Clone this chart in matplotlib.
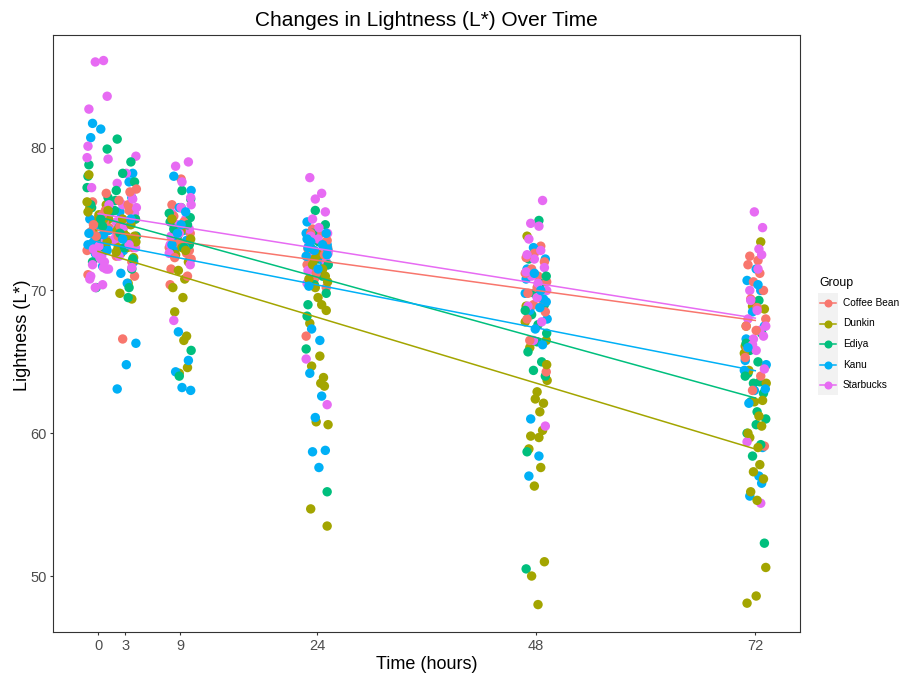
import numpy as np
import matplotlib
matplotlib.use("Agg")
import matplotlib.pyplot as plt
from matplotlib.lines import Line2D
from matplotlib.patches import Rectangle

plt.rcParams['font.family'] = ['Liberation Sans', 'DejaVu Sans']

# ---------------- data ----------------
TIMES = [0, 3, 9, 24, 48, 72]
GROUPS = ["Coffee Bean", "Dunkin", "Ediya", "Kanu", "Starbucks"]
COLORS = ["#F8766D", "#A3A500", "#00BF7D", "#00B0F6", "#E76BF3"]

coffee_bean = [
    [71.1, 72.8, 73.5, 74.0, 74.4, 75.0, 75.6, 73.2, 74.8, 76.2, 72.5, 74.1, 75.3, 73.8, 76.8, 74.6],
    [66.6, 71.0, 72.4, 73.5, 74.2, 75.0, 76.3, 77.1, 74.8, 73.0, 75.6, 72.0, 74.5, 76.0, 73.8, 76.9],
    [77.8, 76.0, 74.5, 73.6, 72.8, 71.5, 70.4, 73.0, 74.0, 75.2, 72.2, 73.3, 71.0, 74.8, 72.6, 72.3],
    [74.3, 73.9, 73.0, 72.6, 72.0, 71.5, 70.8, 70.2, 72.9, 71.8, 66.8, 73.5, 74.0, 72.8, 71.2, 72.5],
    [73.1, 72.6, 72.0, 71.5, 71.0, 70.6, 70.2, 69.8, 69.4, 69.0, 68.5, 68.0, 72.3, 71.2, 64.3, 66.5],
    [72.4, 72.1, 71.8, 71.2, 70.6, 70.0, 69.4, 68.8, 68.0, 67.2, 66.0, 64.0, 63.0, 59.1, 67.5, 65.3],
]
dunkin = [
    [72.9, 75.2, 73.8, 76.0, 74.3, 74.6, 75.0, 75.3, 75.8, 75.0, 74.8, 73.4, 78.1, 75.5, 76.2, 75.6],
    [69.4, 69.8, 70.5, 73.0, 73.5, 74.0, 72.3, 72.6, 73.0, 73.4, 73.8, 74.2, 74.6, 75.0, 73.8, 72.7],
    [64.2, 64.6, 66.5, 66.8, 68.5, 69.5, 70.2, 70.8, 71.4, 72.0, 72.5, 73.0, 73.6, 74.2, 75.0, 72.8],
    [53.5, 54.7, 60.6, 60.8, 63.3, 63.5, 63.9, 64.7, 65.4, 67.7, 69.0, 70.2, 71.0, 71.8, 72.5, 70.6,
     69.5, 70.8, 71.5, 72.2, 68.6],
    [73.8, 68.9, 67.8, 66.5, 66.0, 63.7, 62.4, 62.1, 61.5, 60.2, 59.8, 59.7, 58.9, 57.6, 56.3, 51.0,
     50.0, 48.0, 64.8, 62.9],
    [73.4, 68.9, 68.7, 67.5, 66.1, 65.6, 64.7, 64.4, 63.5, 62.2, 62.3, 61.2, 60.5, 59.7, 59.0, 60.0,
     57.8, 57.3, 56.8, 55.9, 55.3, 50.6, 48.6, 48.1],
]
ediya = [
    [79.9, 78.8, 78.0, 77.2, 76.5, 75.8, 75.3, 74.8, 74.2, 73.6, 73.0, 72.0, 75.0, 76.0, 74.5, 70.2],
    [80.6, 79.0, 78.2, 77.6, 77.0, 76.3, 75.6, 75.0, 74.4, 73.8, 73.0, 72.2, 70.2, 71.5, 74.0, 69.5],
    [77.0, 76.4, 75.8, 75.0, 74.4, 73.8, 73.2, 72.6, 74.8, 75.4, 75.1, 74.3, 65.8, 64.0, 74.6, 73.0],
    [75.6, 74.6, 74.0, 73.4, 72.8, 72.2, 71.6, 71.0, 70.4, 69.8, 69.0, 68.2, 65.9, 55.9, 73.0, 71.8],
    [74.9, 72.2, 70.5, 69.8, 69.0, 68.3, 67.6, 67.0, 66.4, 65.7, 65.0, 64.4, 64.0, 58.7, 50.5, 68.6,
     71.0],
    [69.3, 67.0, 65.8, 65.0, 64.2, 63.6, 63.5, 62.8, 62.2, 61.5, 61.0, 60.6, 60.0, 59.2, 58.4, 52.3,
     66.3, 64.0],
]
kanu = [
    [81.7, 81.3, 80.7, 71.7, 72.5, 73.0, 73.4, 73.8, 74.2, 74.6, 75.0, 73.9, 72.6, 72.8, 74.0, 73.2],
    [78.2, 77.6, 76.5, 75.5, 74.8, 74.0, 73.4, 72.8, 72.0, 71.2, 70.5, 66.3, 64.8, 63.1, 75.0, 73.6],
    [78.0, 77.0, 75.8, 75.0, 74.2, 73.5, 72.8, 74.4, 73.8, 73.0, 67.1, 65.1, 64.3, 63.2, 63.0, 74.6,
     73.2, 75.5, 74.0],
    [74.8, 74.0, 73.2, 72.5, 71.8, 71.2, 73.0, 72.3, 72.0, 67.3, 66.5, 64.2, 62.6, 61.1, 58.8, 58.7,
     57.6, 72.9, 71.5, 70.3, 73.2, 72.8, 74.0, 73.0, 73.6, 72.4, 72.5, 73.4],
    [73.0, 72.2, 71.5, 70.8, 69.8, 69.2, 68.6, 68.0, 67.3, 69.4, 68.8, 66.2, 61.0, 58.4, 57.0, 70.0,
     71.2],
    [71.5, 70.7, 70.0, 68.5, 67.5, 66.6, 65.1, 64.4, 63.1, 62.1, 64.8, 63.0, 59.0, 57.0, 56.5, 55.6,
     70.4, 66.0],
]
starbucks = [
    [86.1, 86.0, 83.6, 82.7, 80.1, 79.3, 79.2, 77.2, 76.0, 74.6, 73.5, 72.4, 72.0, 71.8, 72.2, 71.0,
     70.4, 72.6, 71.5, 72.9, 72.3, 71.5, 73.1, 70.8, 71.6, 70.2],
    [79.4, 78.2, 77.5, 76.8, 76.0, 75.4, 74.8, 74.2, 73.6, 73.0, 72.4, 75.8, 74.5, 76.4, 73.2, 71.6],
    [79.0, 78.7, 77.6, 76.5, 75.8, 75.4, 75.0, 74.6, 74.3, 73.8, 73.2, 72.6, 71.8, 67.9, 76.0, 74.0],
    [77.9, 76.8, 76.4, 75.5, 75.0, 74.4, 74.0, 73.6, 73.2, 72.8, 72.4, 72.0, 71.4, 70.5, 65.2, 62.0,
     73.8, 72.6],
    [76.3, 74.7, 74.5, 73.6, 72.8, 72.2, 71.6, 71.0, 70.5, 70.0, 69.5, 68.9, 67.8, 66.5, 60.5, 72.5,
     71.3],
    [75.5, 74.4, 72.9, 72.5, 70.0, 71.5, 68.0, 67.2, 66.6, 66.8, 69.3, 68.6, 67.5, 65.8, 59.4, 55.1,
     66.2, 64.5],
]
GROUP_DATA = [coffee_bean, dunkin, ediya, kanu, starbucks]

# horizontal jitter offsets (hours), fixed
JITTER = [-1.1, 0.4, 0.9, -0.3, 1.2, -0.8, 0.1, -1.2, 0.7, -0.5, 1.0, -0.1,
          0.5, -0.9, 1.1, -0.6, 0.2, -1.0, 0.8, -0.2, 0.6, -0.7, 0.3, 1.15]

# ---------------- figure ----------------
W, H = 902, 675
fig = plt.figure(figsize=(W / 100, H / 100), dpi=100)


def fx(px):
    return px / W


def fy(py):
    return 1 - py / H


L, R, T, B = 53.3, 800.0, 34.7, 632.0
ax = fig.add_axes([fx(L), fy(B), (R - L) / W, (B - T) / H])
ax.set_xlim(-4.9, 76.9)
ax.set_ylim(46.08, 87.91)

rows = []
for ti, t in enumerate(TIMES):
    for g, gd in enumerate(GROUP_DATA):
        for i, v in enumerate(gd[ti]):
            j = JITTER[(i * 7 + g * 5 + ti * 3) % len(JITTER)]
            rows.append((i * 5 + (g * 3) % 5, t + j, v, COLORS[g]))
rows.sort(key=lambda r: r[0])
ax.scatter([r[1] for r in rows], [r[2] for r in rows], c=[r[3] for r in rows],
           s=46, linewidths=0, zorder=2)

# linear fits per group
for g, gd in enumerate(GROUP_DATA):
    tt = np.concatenate([[TIMES[k]] * len(gd[k]) for k in range(len(TIMES))])
    yy = np.concatenate([gd[k] for k in range(len(TIMES))])
    coef = np.polyfit(tt, yy, 1)
    xx = np.array([min(TIMES), max(TIMES)])
    ax.plot(xx, np.polyval(coef, xx), color=COLORS[g], lw=1.1, zorder=3)

ax.set_xticks(TIMES)
ax.set_yticks([50, 60, 70, 80])
for sp in ax.spines.values():
    sp.set_color('#333333')
    sp.set_linewidth(0.8)
ax.tick_params(direction='out', length=2.4, width=0.8, color='#333333',
               labelcolor='#4D4D4D', labelsize=10.5, pad=2.5)

fig.text(fx(426.5), fy(26), "Changes in Lightness (L*) Over Time", ha='center',
         va='baseline', fontsize=15, color='black')
fig.text(fx(426.5), fy(669), "Time (hours)", ha='center', va='baseline',
         fontsize=13, color='black')
fig.text(fx(27), fy(335), "Lightness (L*)", ha='center', va='baseline',
         rotation=90, rotation_mode='anchor', fontsize=13, color='black')

# legend (manual, ggplot style)
fig.text(fx(819), fy(283), "Group", ha='left', va='center', fontsize=8.8)
row_y = [303, 323.5, 344, 364.5, 385]
fig.patches.append(Rectangle((fx(818), fy(395)), 20 / W, 102 / H,
                             transform=fig.transFigure, facecolor='#F2F2F2',
                             edgecolor='none', zorder=0))
for g, name in enumerate(GROUPS):
    y = fy(row_y[g])
    fig.lines.append(Line2D([fx(820), fx(836)], [y, y], transform=fig.transFigure,
                            color=COLORS[g], lw=1.1))
    fig.lines.append(Line2D([fx(828)], [y], transform=fig.transFigure, marker='o',
                            markersize=5.8, markeredgewidth=0, color=COLORS[g]))
    fig.text(fx(843), y, name, ha='left', va='center', fontsize=7.3)

fig.savefig("out.png", dpi=100)
